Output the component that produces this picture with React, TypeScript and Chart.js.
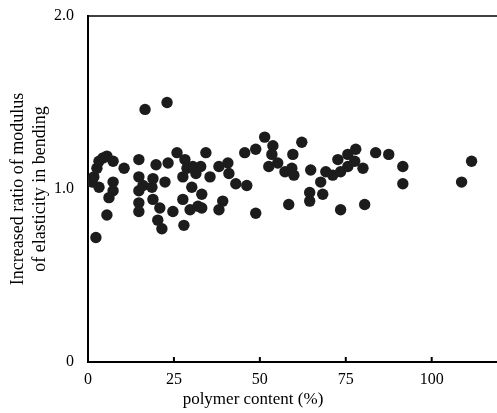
import React, { useEffect, useRef } from "react";
import { Chart, registerables } from "chart.js";

Chart.register(...registerables);

// polymer content (%)
const polymerContent: number[] = [
  2.3, 1.2, 1.7, 2.6, 3.2, 4.4, 5.5, 7.3, 10.5, 3.2,
  7.3, 7.3, 6.1, 5.5, 16.6, 23.0, 14.8, 14.8, 14.8, 14.8,
  14.8, 16.0, 18.6, 18.9, 19.8, 23.3, 22.4, 18.9, 20.9, 20.3,
  21.5, 24.7, 27.9, 25.9, 28.2, 28.8, 30.5, 27.6, 30.2, 27.6,
  29.7, 32.0, 33.1, 34.3, 32.8, 31.4, 35.5, 33.1, 38.1, 40.7,
  41.0, 39.2, 38.1, 43.0, 46.2, 45.6, 48.8, 51.4, 53.8, 53.5,
  55.2, 52.6, 48.8, 58.4, 57.3, 59.3, 59.9, 59.6, 62.2, 64.8,
  64.5, 64.5, 67.7, 68.3, 69.2, 71.2, 73.5, 75.6, 72.7, 75.6,
  77.9, 77.6, 80.0, 73.5, 80.5, 83.7, 87.5, 91.6, 91.6, 108.7,
  111.6,
];

// increased ratio of modulus of elasticity in bending
const modulusRatio: number[] = [
  0.72, 1.04, 1.07, 1.12, 1.16, 1.18, 1.19, 1.16, 1.12, 1.01,
  1.04, 0.99, 0.95, 0.85, 1.46, 1.50, 1.17, 1.07, 0.99, 0.92,
  0.87, 1.02, 1.01, 1.06, 1.14, 1.15, 1.04, 0.94, 0.89, 0.82,
  0.77, 0.87, 0.79, 1.21, 1.17, 1.12, 1.13, 1.07, 1.01, 0.94,
  0.88, 0.90, 0.97, 1.21, 1.13, 1.09, 1.07, 0.89, 1.13, 1.15,
  1.09, 0.93, 0.88, 1.03, 1.02, 1.21, 1.23, 1.30, 1.25, 1.20,
  1.15, 1.13, 0.86, 0.91, 1.10, 1.12, 1.08, 1.20, 1.27, 1.11,
  0.98, 0.93, 1.04, 0.97, 1.10, 1.08, 1.10, 1.13, 1.17, 1.20,
  1.23, 1.16, 1.12, 0.88, 0.91, 1.21, 1.20, 1.13, 1.03, 1.04,
  1.16,
];

const xTickValues: number[] = [0, 25, 50, 75, 100];
const yTickValues: number[] = [0, 1, 2];
const xTitle = "polymer content (%)";
const yTitle: string[] = ["Increased ratio of modulus", "of elasticity in bending"];

const FONT = "'Liberation Serif', 'DejaVu Serif', serif";

const framePlugin = {
  id: "frame",
  afterDraw(chart: any) {
    const { ctx, chartArea, scales } = chart;
    const xs = scales.x;
    ctx.save();
    ctx.strokeStyle = "#000";
    // top border line
    ctx.lineWidth = 1.5;
    ctx.beginPath();
    ctx.moveTo(chartArea.left, chartArea.top);
    ctx.lineTo(chartArea.right, chartArea.top);
    ctx.stroke();
    // inward ticks on x axis
    ctx.lineWidth = 2;
    xTickValues.forEach((v) => {
      if (v === 0) return;
      const px = xs.getPixelForValue(v);
      ctx.beginPath();
      ctx.moveTo(px, chartArea.bottom);
      ctx.lineTo(px, chartArea.bottom - 5);
      ctx.stroke();
    });
    // x title
    ctx.fillStyle = "#000";
    ctx.font = `17px ${FONT}`;
    ctx.textAlign = "center";
    ctx.textBaseline = "middle";
    ctx.fillText(xTitle, xs.getPixelForValue(48), chartArea.bottom + 38);
    ctx.restore();
  },
};

export default function App() {
  const ref = useRef<HTMLCanvasElement | null>(null);

  useEffect(() => {
    document.body.style.margin = "0";
    if (!ref.current) return;
    const data = polymerContent.map((x, i) => ({ x, y: modulusRatio[i] }));
    const chart = new Chart(ref.current, {
      type: "scatter",
      data: {
        datasets: [
          {
            data,
            backgroundColor: "#1c1c1c",
            borderColor: "#1c1c1c",
            borderWidth: 0,
            pointRadius: 5.7,
            pointHoverRadius: 5.7,
          },
        ],
      },
      options: {
        responsive: false,
        animation: false,
        layout: { autoPadding: false, padding: { top: 16, right: 0, left: 0, bottom: 0 } },
        plugins: {
          legend: { display: false },
          tooltip: { enabled: false },
        },
        scales: {
          x: {
            type: "linear",
            min: 0,
            max: 119,
            position: "bottom",
            afterFit: (s: any) => {
              s.height = 51;
              s.paddingLeft = 0;
              s.paddingRight = 0;
            },
            afterBuildTicks: (s: any) => {
              s.ticks = xTickValues.map((v) => ({ value: v }));
            },
            ticks: {
              stepSize: 25,
              includeBounds: false,
              color: "#000",
              font: { family: FONT, size: 16 },
              padding: 0,
              maxRotation: 0,
            },
            grid: { display: false },
            border: { display: true, color: "#000", width: 2 },
          },
          y: {
            type: "linear",
            min: 0,
            max: 2,
            afterFit: (s: any) => {
              s.width = 88;
            },
            afterBuildTicks: (s: any) => {
              s.ticks = yTickValues.map((v) => ({ value: v }));
            },
            ticks: {
              stepSize: 1,
              color: "#000",
              font: { family: FONT, size: 16 },
              padding: 6,
              callback: (v: any) => (Number(v) === 0 ? "0" : Number(v).toFixed(1)),
            },
            grid: { display: false },
            border: { display: true, color: "#000", width: 2 },
            title: {
              display: true,
              text: yTitle,
              color: "#000",
              font: { family: FONT, size: 18, lineHeight: 1.25 },
              padding: { top: 7, bottom: 0 },
            },
          },
        },
      },
      plugins: [framePlugin],
    });
    return () => chart.destroy();
  }, []);

  return (
    <div style={{ position: "absolute", left: 0, top: 0, width: 497, height: 413, background: "#fff" }}>
      <canvas ref={ref} width={497} height={413} />
    </div>
  );
}
